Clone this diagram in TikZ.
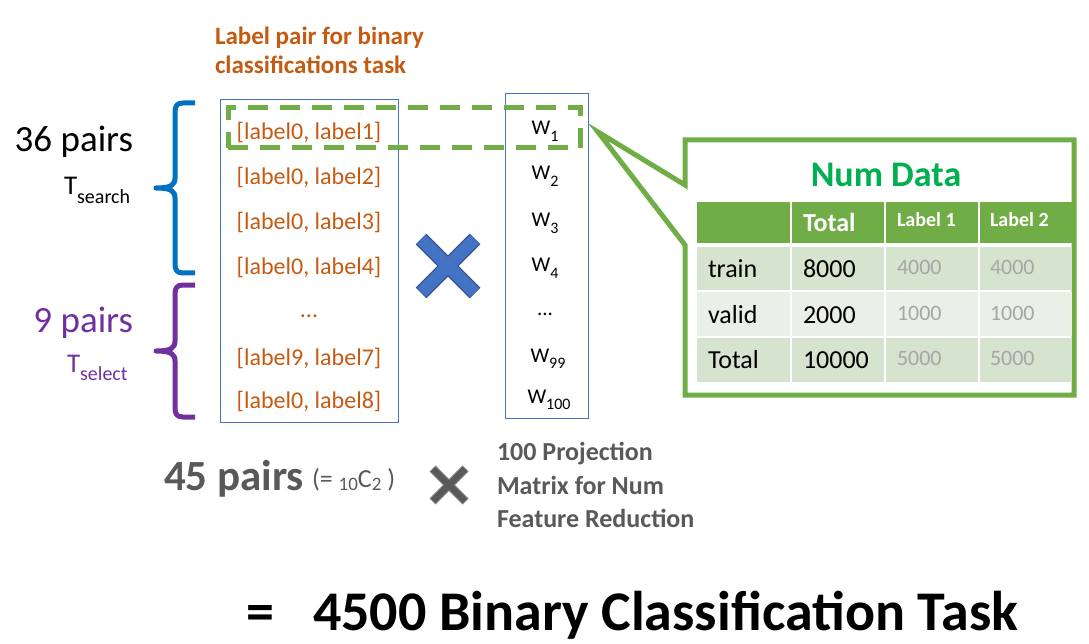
\documentclass[tikz,border=0pt]{standalone}
\usepackage{fontspec}
\setmainfont{Carlito}
\definecolor{lorange}{HTML}{C55A11}
\definecolor{brblue}{HTML}{0070C0}
\definecolor{brpurple}{HTML}{7030A0}
\definecolor{numgreen}{HTML}{00B050}
\definecolor{ggreen}{HTML}{70AD47}
\definecolor{boxblue}{HTML}{4472C4}
\definecolor{xblue}{HTML}{4472C4}
\definecolor{xblueedge}{HTML}{2F528F}
\definecolor{rowa}{HTML}{D5E3CF}
\definecolor{rowb}{HTML}{EAEFE8}
\definecolor{lgray}{HTML}{A6A6A6}
\definecolor{dgray}{HTML}{595959}
\newcommand\fs[1]{\fontsize{#1}{#1}\selectfont}
\newcommand\mysub[2]{\raisebox{-0.3em}{\fs{#1}#2}}
\begin{document}
\begin{tikzpicture}[x=1pt,y=-1pt,
  txt/.style={inner sep=0,outer sep=0},
  pairtxt/.style={txt,anchor=base,text=lorange,font=\fs{24}},
  wtxt/.style={txt,anchor=base,font=\fs{21}},
  colbox/.style={draw=boxblue,line width=1,inner sep=0,minimum width=#1},
  cell/.style={inner sep=0,outer sep=0,anchor=north west},
  celltxt/.style={txt,anchor=base west,font=\fs{26}},
  graytxt/.style={txt,anchor=base west,font=\fs{22},text=lgray},
  hdrtxt/.style={txt,anchor=base west,font=\fs{20}\bfseries,text=white},
  brace/.style={line width=5,line cap=butt,line join=round},
  projtxt/.style={txt,anchor=base west,font=\fs{26}\bfseries,text=dgray}]
\useasboundingbox (0,0) rectangle (1089,644);

% title
\node[txt,anchor=base west,text=lorange,font=\fs{25}\bfseries] (title1) at (215,45) {Label pair for binary};
\node[txt,anchor=base west,text=lorange,font=\fs{25}\bfseries] (title2) at (215,74) {classifications task};

% left box with label pairs
\node[colbox=178,minimum height=322] (lbox) at (309,261) {};
\node[pairtxt] (p1) at (309,140) {[label0, label1]};
\node[pairtxt] (p2) at (309,185) {[label0, label2]};
\node[pairtxt] (p3) at (309,230) {[label0, label3]};
\node[pairtxt] (p4) at (309,275) {[label0, label4]};
\node[pairtxt] (p5) at (309,317) {...};
\node[pairtxt] (p6) at (309,365) {[label9, label7]};
\node[pairtxt] (p7) at (309,408) {[label0, label8]};

% right box with W
\node[colbox=83,minimum height=324] (wbox) at (546.5,256) {};
\node[wtxt] (w1) at (545,135) {W\mysub{16}{1}};
\node[wtxt] (w2) at (545,180) {W\mysub{16}{2}};
\node[wtxt] (w3) at (545,227) {W\mysub{16}{3}};
\node[wtxt] (w4) at (545,272) {W\mysub{16}{4}};
\node[wtxt] (w5) at (545,315) {...};
\node[wtxt] (w6) at (548,362) {W\mysub{16}{99}};
\node[wtxt] (w7) at (549,403) {W\mysub{16}{100}};

% dashed selection
\node[draw=ggreen,line width=5,dash pattern=on 20 off 12,inner sep=0,minimum width=352,minimum height=40] (sel) at (404,128) {};

% blue cross
\coordinate (bx) at (448,266);
\draw[xblueedge,line width=15] ([shift={(-27,-27)}]bx) -- ([shift={(27,27)}]bx);
\draw[xblueedge,line width=15] ([shift={(27,-27)}]bx) -- ([shift={(-27,27)}]bx);
\draw[xblue,line width=12.5] ([shift={(-26.5,-26.5)}]bx) -- ([shift={(26.5,26.5)}]bx);
\draw[xblue,line width=12.5] ([shift={(26.5,-26.5)}]bx) -- ([shift={(-26.5,26.5)}]bx);

% braces
\draw[brace,brblue] (195,103) -- (183,103) .. controls (177,103) and (175,106) .. (175,112) -- (175,178) .. controls (175,185) and (171,188) .. (156,188) .. controls (171,188) and (175,191) .. (175,198) -- (175,264) .. controls (175,270) and (177,273) .. (183,273) -- (195,273);
\draw[brace,brpurple] (195,285) -- (183,285) .. controls (177,285) and (175,288) .. (175,294) -- (175,341) .. controls (175,348) and (171,351) .. (156,351) .. controls (171,351) and (175,354) .. (175,361) -- (175,408) .. controls (175,414) and (177,417) .. (183,417) -- (195,417);

% left texts
\node[txt,anchor=base east,font=\fs{37}] (n36) at (133,152) {36 pairs};
\node[txt,anchor=base west,font=\fs{27}] (ts) at (64,195) {T\mysub{20}{search}};
\node[txt,anchor=base east,font=\fs{37},text=brpurple] (n9) at (133,332) {9 pairs};
\node[txt,anchor=base west,font=\fs{27},text=brpurple] (tl) at (67,372) {T\mysub{20}{select}};

% callout
\coordinate (tip) at (598,132);
\draw[ggreen,line width=5,fill=white,line join=miter] (685,140) -- (1074,140) -- (1074,395) -- (685,395) -- (685,245) -- (tip) -- (685,185) -- cycle;
\node[txt,anchor=base,font=\fs{36}\bfseries,text=numgreen] (numdata) at (886,187) {Num Data};

% table cells
\node[cell,fill=ggreen,minimum width=93,minimum height=41] (h0) at (697,202) {};
\node[cell,fill=ggreen,minimum width=92,minimum height=41] (h1) at (792,202) {};
\node[cell,fill=ggreen,minimum width=92,minimum height=41] (h2) at (886,202) {};
\node[cell,fill=ggreen,minimum width=92,minimum height=41] (h3) at (980,202) {};
\node[cell,fill=rowa,minimum width=93,minimum height=43] (a0) at (697,247) {};
\node[cell,fill=rowa,minimum width=92,minimum height=43] (a1) at (792,247) {};
\node[cell,fill=rowa,minimum width=92,minimum height=43] (a2) at (886,247) {};
\node[cell,fill=rowa,minimum width=92,minimum height=43] (a3) at (980,247) {};
\node[cell,fill=rowb,minimum width=93,minimum height=44] (b0) at (697,292) {};
\node[cell,fill=rowb,minimum width=92,minimum height=44] (b1) at (792,292) {};
\node[cell,fill=rowb,minimum width=92,minimum height=44] (b2) at (886,292) {};
\node[cell,fill=rowb,minimum width=92,minimum height=44] (b3) at (980,292) {};
\node[cell,fill=rowa,minimum width=93,minimum height=44] (c0) at (697,338) {};
\node[cell,fill=rowa,minimum width=92,minimum height=44] (c1) at (792,338) {};
\node[cell,fill=rowa,minimum width=92,minimum height=44] (c2) at (886,338) {};
\node[cell,fill=rowa,minimum width=92,minimum height=44] (c3) at (980,338) {};

% table texts
\node[txt,anchor=base west,font=\fs{26}\bfseries,text=white] (th1) at (803,232) {Total};
\node[hdrtxt] (th2) at (897,227) {Label 1};
\node[hdrtxt] (th3) at (990,227) {Label 2};
\node[celltxt] (ta0) at (708,277) {train};
\node[celltxt] (ta1) at (803,277) {8000};
\node[graytxt] (ta2) at (897,274) {4000};
\node[graytxt] (ta3) at (990,274) {4000};
\node[celltxt] (tb0) at (708,323) {valid};
\node[celltxt] (tb1) at (803,323) {2000};
\node[graytxt] (tb2) at (897,320) {1000};
\node[graytxt] (tb3) at (990,320) {1000};
\node[celltxt] (tc0) at (708,368) {Total};
\node[celltxt] (tc1) at (803,368) {10000};
\node[graytxt] (tc2) at (897,365) {5000};
\node[graytxt] (tc3) at (990,365) {5000};

% bottom formula
\node[txt,anchor=base west,font=\fs{43}\bfseries,text=dgray] (n45) at (164,490) {45 pairs};
\node[txt,anchor=base west,font=\fs{26},text=dgray] (comb) at (312,487) {(= \raisebox{-0.15em}{\fs{19}10}C\raisebox{-0.15em}{\fs{19}2} )};
\coordinate (gx) at (449,485);
\draw[dgray!70,line width=8.5] ([shift={(-16.5,-16.5)}]gx) -- ([shift={(16.5,16.5)}]gx);
\draw[dgray!70,line width=8.5] ([shift={(16.5,-16.5)}]gx) -- ([shift={(-16.5,16.5)}]gx);
\draw[dgray,line width=6.5] ([shift={(-16,-16)}]gx) -- ([shift={(16,16)}]gx);
\draw[dgray,line width=6.5] ([shift={(16,-16)}]gx) -- ([shift={(-16,16)}]gx);
\node[projtxt] (pr1) at (497,460) {100 Projection};
\node[projtxt] (pr2) at (497,494) {Matrix for Num};
\node[projtxt] (pr3) at (497,527) {Feature Reduction};

\node[txt,anchor=base west,font=\fs{56}\bfseries] (result) at (246,630) {=\hspace{0.7em}4500 Binary Classification Task};
\end{tikzpicture}
\end{document}
